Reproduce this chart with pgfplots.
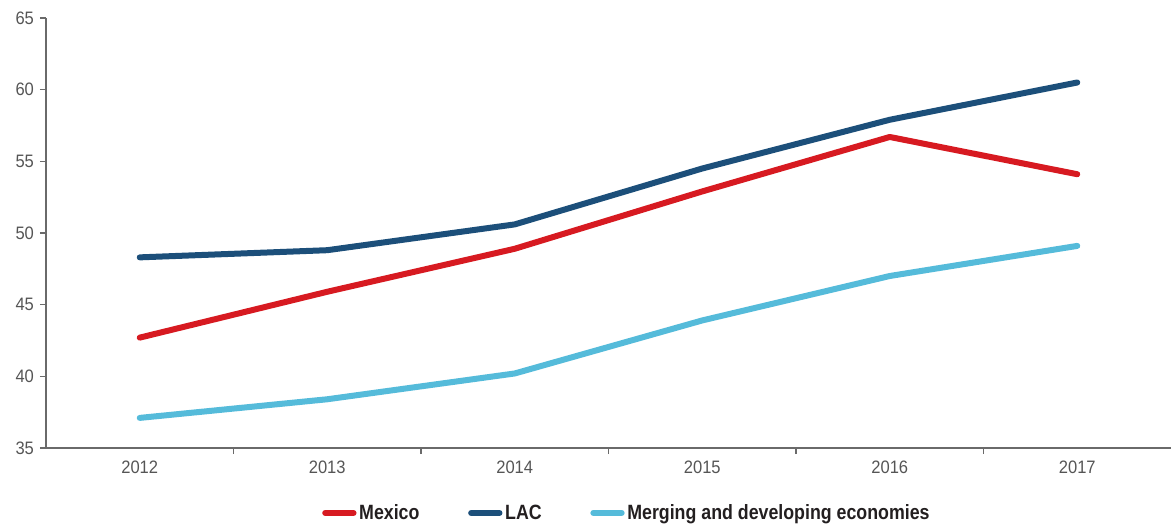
\documentclass[border=0pt]{standalone}
\usepackage{fontspec}
\setmainfont{Liberation Sans}[FakeStretch=0.86]
\newfontfamily\tickfont{Liberation Sans}[FakeStretch=0.92]
\usepackage{pgfplots}
\pgfplotsset{compat=1.18}

\definecolor{mexred}{HTML}{D71A21}
\definecolor{lacblue}{HTML}{1C4F7A}
\definecolor{emdblue}{HTML}{55BBDA}
\definecolor{axisgray}{HTML}{6A6A6A}
\definecolor{ticktext}{HTML}{555555}
\definecolor{legtext}{HTML}{231F20}

\begin{document}
\begin{tikzpicture}
% page frame: 1171 x 525 px at 0.75pt per px
\path[use as bounding box] (0pt,0pt) rectangle (878.25pt,393.75pt);
\begin{axis}[
  at={(34.5pt,57.75pt)}, anchor=south west,
  scale only axis, width=843.75pt, height=322.5pt,
  xmin=-0.5, xmax=5.5, ymin=35, ymax=65,
  axis lines*=left,
  axis line style={draw=axisgray, line width=1.1pt},
  xtick={0,1,2,3,4,5},
  xticklabels={2012,2013,2014,2015,2016,2017},
  minor xtick={0.5,1.5,2.5,3.5,4.5},
  major x tick style={draw=none},
  minor x tick style={draw=axisgray, line width=0.9pt},
  ytick={35,40,45,50,55,60,65},
  major y tick style={draw=axisgray, line width=0.9pt},
  tick align=outside,
  major tick length=4.5pt, minor tick length=4.5pt,
  ticklabel style={font=\tickfont\fontsize{13.5}{14}\selectfont, text=ticktext},
  /pgf/number format/assume math mode=true,
  xticklabel style={yshift=-2pt},
  yticklabel style={xshift=-1pt},
  legend columns=3,
  legend style={draw=none, fill=none, at={(0.2453,-0.151)}, anchor=west,
    inner sep=0pt,
    font=\fontsize{15.5}{16}\selectfont\bfseries, text=legtext,
    /tikz/every even column/.append style={column sep=34.5pt}},
  legend image code/.code={%
    \draw[#1, line width=4.5pt, line cap=round] (2.25pt,0) -- (16.5pt,0);
    \path (0pt,0pt) -- (21.25pt,0pt);},
  every axis plot/.append style={line width=4.5pt, line cap=round, line join=round},
]
\addplot[mexred] coordinates {(0,42.7) (1,45.9) (2,48.9) (3,52.9) (4,56.7) (5,54.1)};
\addlegendentry{Mexico}
\addplot[lacblue] coordinates {(0,48.3) (1,48.8) (2,50.6) (3,54.5) (4,57.9) (5,60.5)};
\addlegendentry{LAC}
\addplot[emdblue] coordinates {(0,37.1) (1,38.4) (2,40.2) (3,43.9) (4,47.0) (5,49.1)};
\addlegendentry{Merging and developing economies}
\end{axis}
\end{tikzpicture}
\end{document}
